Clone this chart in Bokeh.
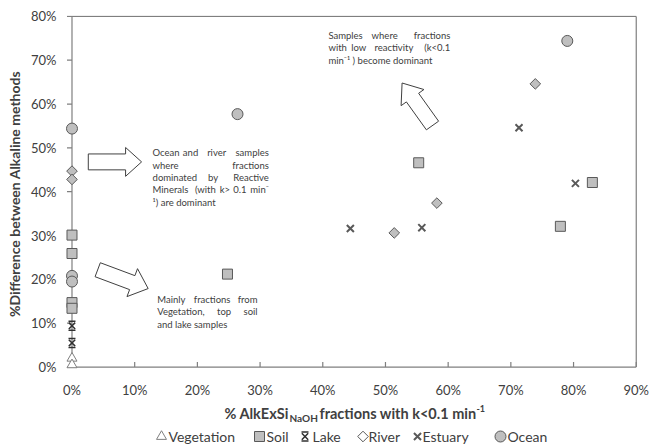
import math
from bokeh.plotting import figure
from bokeh.layouts import column
from bokeh.models import (Range1d, FixedTicker, PrintfTickFormatter, Label)
from bokeh.embed import file_html
from bokeh.resources import INLINE

# ---------------- data (percent) ----------------
veg_x = [0, 0]
veg_y = [2.0, 0.5]
soil_x = [0, 0, 0, 0, 24.8, 55.3, 77.9, 83.0]
soil_y = [30.1, 25.9, 14.7, 13.4, 21.2, 46.6, 32.1, 42.1]
lake_x = [0, 0]
lake_y = [9.4, 5.5]
river_x = [0, 0, 51.4, 58.2, 73.9]
river_y = [44.7, 42.8, 30.6, 37.4, 64.6]
estuary_x = [44.4, 55.8, 71.3, 80.3]
estuary_y = [31.6, 31.8, 54.6, 41.9]
ocean_x = [0, 0, 0, 26.4, 79.0]
ocean_y = [54.4, 20.8, 19.5, 57.7, 74.4]

x_ticks = [0, 10, 20, 30, 40, 50, 60, 70, 80, 90]
y_ticks = [0, 10, 20, 30, 40, 50, 60, 70, 80]
X_MAX, Y_MAX = 90, 80
legend_labels = ["Vegetation", "Soil", "Lake", "River", "Estuary", "Ocean"]

FONT = "Lato"
TXT = "#404040"
AXC = "#7f7f7f"
FILL = "#bfbfbf"
EDGE = "#595959"

XR = (-1.036, 90.2)
YR = (-1.247, 80.2)
W, H1, H2 = 650, 400, 44
BL, BR, BT = 65, 13, 15
FW = W - BL - BR
FH = 359
BB = H1 - BT - FH
PXX = FW / (XR[1] - XR[0])
PXY = FH / (YR[1] - YR[0])

p = figure(width=W, height=H1, output_backend="svg", toolbar_location=None,
           x_range=Range1d(*XR), y_range=Range1d(*YR),
           min_border_left=BL, min_border_right=BR, min_border_top=BT, min_border_bottom=BB)
p.grid.visible = False
p.outline_line_color = None

for ax in (p.xaxis, p.yaxis):
    ax.axis_line_color = None
    ax.major_tick_line_color = None
    ax.minor_tick_line_color = None
    ax.major_tick_in = 0
    ax.major_tick_out = 0
    ax.major_label_text_font = FONT
    ax.major_label_text_font_size = "13px"
    ax.major_label_text_color = TXT
    ax.formatter = PrintfTickFormatter(format="%d%%")

p.xaxis.ticker = FixedTicker(ticks=x_ticks)
p.yaxis.ticker = FixedTicker(ticks=y_ticks)
p.xaxis.major_label_standoff = 9
p.yaxis.major_label_standoff = 9
p.yaxis.axis_label = "%Difference between Alkaline methods"
p.yaxis.axis_label_text_font = FONT
p.yaxis.axis_label_text_font_size = "14px"
p.yaxis.axis_label_text_font_style = "bold"
p.yaxis.axis_label_text_color = TXT
p.yaxis.axis_label_standoff = 5

# ---------------- annotations: block arrows ----------------
def block_arrow(tail, tip, sw, hw, hl):
    tx, ty = tail[0] * PXX, tail[1] * PXY
    px, py = tip[0] * PXX, tip[1] * PXY
    L = math.hypot(px - tx, py - ty)
    ux, uy = (px - tx) / L, (py - ty) / L
    nx, ny = -uy, ux
    bx, by = px - ux * hl, py - uy * hl
    pts = [(tx + nx * sw / 2, ty + ny * sw / 2), (bx + nx * sw / 2, by + ny * sw / 2),
           (bx + nx * hw / 2, by + ny * hw / 2), (px, py),
           (bx - nx * hw / 2, by - ny * hw / 2), (bx - nx * sw / 2, by - ny * sw / 2),
           (tx - nx * sw / 2, ty - ny * sw / 2)]
    return [q[0] / PXX for q in pts], [q[1] / PXY for q in pts]

arrows = [((2.6, 46.8), (11.1, 46.8), 16, 29, 16),
          ((57.5, 55.1), (52.65, 64.8), 15, 28, 18),
          ((4.1, 22.2), (12.15, 17.9), 15, 30, 17)]
axs, ays = [], []
for a in arrows:
    xs, ys = block_arrow(*a)
    axs.append(xs)
    ays.append(ys)
p.patches(axs, ays, fill_color="white", line_color="#404040", line_width=1)

# axis lines at the origin, frame border at the range ends, tick marks
TK = 5
p.line([0, 0], [0, Y_MAX], line_color=AXC, line_width=1.2)
p.line([0, X_MAX], [0, 0], line_color=AXC, line_width=1.2)
p.line([0, X_MAX], [Y_MAX, Y_MAX], line_color=AXC, line_width=1.2)
p.line([X_MAX, X_MAX], [0, Y_MAX], line_color=AXC, line_width=1.2)
for t in y_ticks:
    p.line([-TK / PXX, 0], [t, t], line_color=AXC, line_width=1.2)
for t in x_ticks:
    p.line([t, t], [0, TK / PXY], line_color=AXC, line_width=1.2)

# ---------------- markers ----------------
def add_series(fig, xs, ys, dy, river_fill=FILL):
    fig.scatter(xs[0], ys[0], marker="triangle", size=10, fill_color="white", line_color="#7f7f7f", line_width=1)
    fig.scatter(xs[1], ys[1], marker="square", size=10, fill_color=FILL, line_color=EDGE, line_width=1)
    fig.scatter(xs[2], ys[2], marker="x", size=9, line_color="#303030", line_width=1.5)
    fig.scatter(xs[2] * 2, [y + dy for y in ys[2]] + [y - dy for y in ys[2]], marker="dash", size=7,
                line_color="#303030", line_width=1.5)
    fig.scatter(xs[3], ys[3], marker="square", angle=math.pi / 4, size=7.5, fill_color=river_fill,
                line_color=EDGE, line_width=1)
    fig.scatter(xs[4], ys[4], marker="x", size=10, line_color=EDGE, line_width=2)
    fig.scatter(xs[5], ys[5], marker="circle", size=11, fill_color=FILL, line_color=EDGE, line_width=1)

add_series(p, [veg_x, soil_x, lake_x, river_x, estuary_x, ocean_x],
           [veg_y, soil_y, lake_y, river_y, estuary_y, ocean_y], 4.5 / PXY)

# ---------------- text boxes ----------------
FS = "9.5px"
CW = 4.75  # approximate px per character

def text_block(lines, left, right, top, lh=12.5):
    Wd = (right - left) * PXX
    for i, (words, just) in enumerate(lines):
        y = top - i * lh / PXY
        if not just:
            p.add_layout(Label(x=left, y=y, text=" ".join(words), text_font=FONT, text_font_size=FS,
                               text_color=TXT, text_align="left", text_baseline="middle"))
            continue
        ws = [len(w) * CW for w in words]
        gap = (Wd - sum(ws)) / (len(words) - 1)
        pos = 0.0
        for j, w in enumerate(words):
            if j == 0:
                xx, al = left, "left"
            elif j == len(words) - 1:
                xx, al = right, "right"
            else:
                xx, al = left + (pos + ws[j] / 2) / PXX, "center"
            p.add_layout(Label(x=xx, y=y, text=w, text_font=FONT, text_font_size=FS,
                               text_color=TXT, text_align=al, text_baseline="middle"))
            pos += ws[j] + gap

text_block([(["Ocean", "and", "river", "samples"], True),
            (["where", "fractions"], True),
            (["dominated", "by", "Reactive"], True),
            (["Minerals", "(with", "k>", "0.1", "min\u207b"], True),
            (["\u00b9)", "are", "dominant"], False)],
           12.85, 31.4, 48.9)
text_block([(["Samples", "where", "fractions"], True),
            (["with", "low", "reactivity", "(k<0.1"], True),
            (["min\u207b\u00b9", ")", "become", "dominant"], False)],
           40.9, 60.35, 75.7)
text_block([(["Mainly", "fractions", "from"], True),
            (["Vegetation,", "top", "soil"], True),
            (["and", "lake", "samples"], False)],
           13.6, 29.6, 15.4)

# ---------------- lower strip: x-axis title and legend ----------------
p2 = figure(width=W, height=H2, output_backend="svg", toolbar_location=None,
            x_range=Range1d(*XR), y_range=Range1d(H1 + H2, H1),
            min_border_left=BL, min_border_right=BR, min_border_top=0, min_border_bottom=0)
p2.axis.visible = False
p2.grid.visible = False
p2.outline_line_color = None

def px_x(px):
    return XR[0] + (px - BL) / PXX

xl_parts = [("% AlkExSi", 224, 413, "14.5px"), ("NaOH", 289, 417.5, "10px"),
            ("fractions with k<0.1 min", 319, 413, "14.5px"), ("-1", 476, 407.5, "9px")]
for t, x0, y0, fs in xl_parts:
    p2.add_layout(Label(x=px_x(x0), y=y0, text=t, text_font=FONT, text_font_size=fs,
                        text_font_style="bold", text_color=TXT, text_align="left", text_baseline="middle"))

# legend: one swatch of each series style, then its label
LEG_Y = 436
swatch_px = [161, 259, 304.5, 362.5, 417, 500]
label_px = [168, 266, 312, 368, 422, 507]
add_series(p2, [[px_x(v)] for v in swatch_px], [[LEG_Y]] * 6, -4.5, river_fill="white")
for lab, lx in zip(legend_labels, label_px):
    p2.add_layout(Label(x=px_x(lx), y=LEG_Y, text=lab, text_font=FONT, text_font_size="14px",
                        text_color=TXT, text_align="left", text_baseline="middle"))

layout = column(p, p2, spacing=0)
open("out.html", "w").write(file_html(layout, INLINE))
